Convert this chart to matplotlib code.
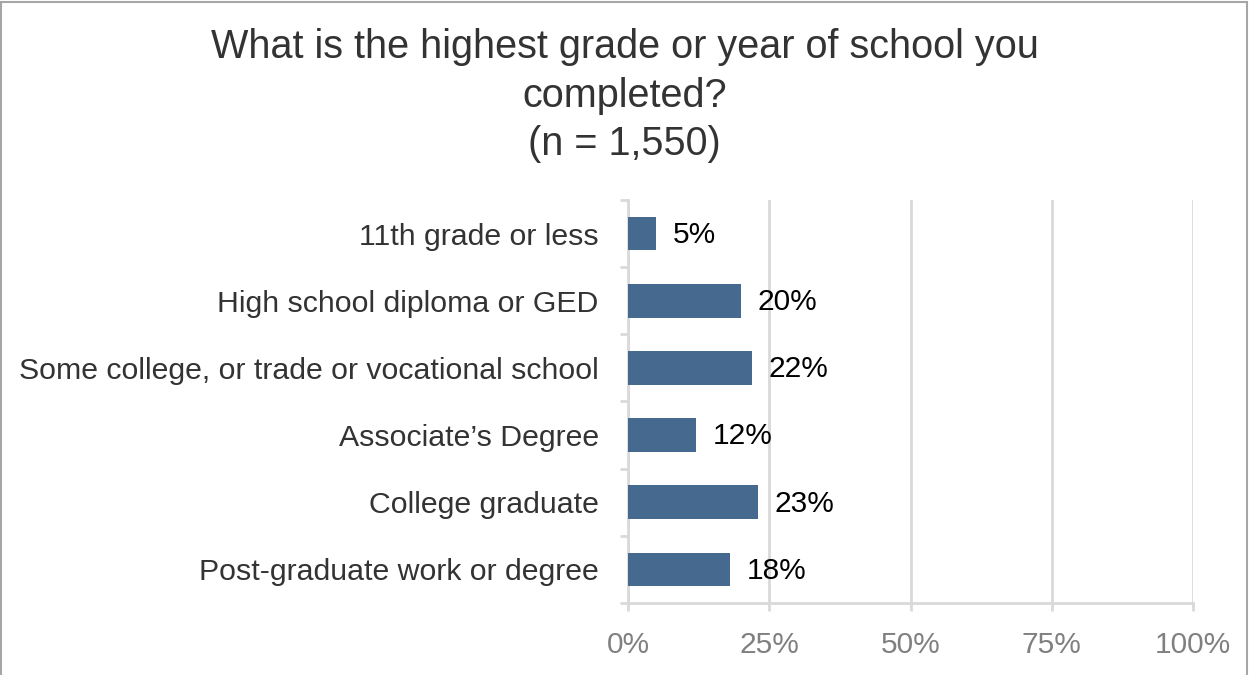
import numpy as np
import matplotlib.pyplot as plt
from matplotlib.patches import Rectangle

plt.rcParams['font.family'] = ['Liberation Sans', 'DejaVu Sans']

categories = ['11th grade or less', 'High school diploma or GED',
              'Some college, or trade or vocational school', 'Associate\u2019s Degree',
              'College graduate', 'Post-graduate work or degree']
values = [5, 20, 22, 12, 23, 18]
xticks = [0, 25, 50, 75, 100]
title = 'What is the highest grade or year of school you\ncompleted?\n(n = 1,550)'

bar_color = '#46698F'
grid_color = '#D9D9D9'

fig = plt.figure(figsize=(12.49, 6.75), dpi=100)
ax = fig.add_axes([0.5028, 0.1067, 0.4524, 0.597])

y = np.arange(len(categories))
ax.barh(y, values, height=0.5, color=bar_color, zorder=3)
for yi, v in zip(y, values):
    ax.annotate('{}%'.format(v), (v, yi), xytext=(12, -1), textcoords='offset points',
                va='center', ha='left', fontsize=21.5, color='black')

ax.set_xlim(0, 100)
ax.set_ylim(len(categories) - 0.5, -0.5)
ax.set_xticks(xticks)
ax.set_xticklabels(['{}%'.format(t) for t in xticks], fontsize=21.5, color='#808080')
ax.set_yticks(y)
ax.set_yticklabels(categories, fontsize=21.8, color='#333333')
ax.set_yticks(np.arange(-0.5, len(categories)), minor=True)
ax.tick_params(axis='y', which='major', length=0, pad=21)
ax.tick_params(axis='y', which='minor', length=6, color=grid_color, width=2)
ax.tick_params(axis='x', length=6, color=grid_color, width=2, pad=14)

ax.grid(axis='x', color=grid_color, linewidth=2, zorder=0)
for side in ['top', 'right']:
    ax.spines[side].set_visible(False)
for side in ['left', 'bottom']:
    ax.spines[side].set_color(grid_color)
    ax.spines[side].set_linewidth(2)

fig.text(0.5, 0.958, title, ha='center', va='top', fontsize=28.5, color='#333333',
         linespacing=1.34)

fig.patches.append(Rectangle((0.001, -0.05), 0.997, 1.047, transform=fig.transFigure,
                             fill=False, edgecolor='#A6A6A6', linewidth=1.5))

fig.savefig('out.png', dpi=100)
